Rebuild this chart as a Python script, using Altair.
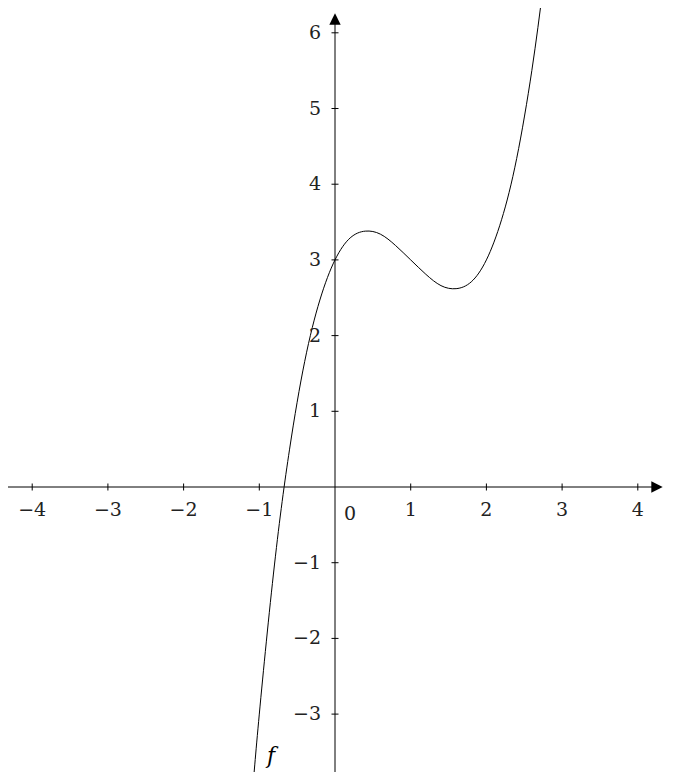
import altair as alt
import pandas as pd

# curve points
curve_x = [-1.1, -1.0, -0.8, -0.6, -0.4, -0.2, 0.0, 0.2, 0.4, 0.6, 0.8, 1.0,
           1.2, 1.4, 1.6, 1.8, 2.0, 2.2, 2.4, 2.6, 2.75]
curve_y = [-4.16, -3.0, -1.03, 0.50, 1.66, 2.47, 3.0, 3.29, 3.38, 3.34, 3.19, 3.0,
           2.81, 2.66, 2.62, 2.71, 3.0, 3.53, 4.34, 5.50, 6.61]

x_ticks = [-4, -3, -2, -1, 1, 2, 3, 4]
x_tick_labels = ["−4", "−3", "−2", "−1", "1", "2", "3", "4"]
y_ticks = [-3, -2, -1, 1, 2, 3, 4, 5, 6]
y_tick_labels = ["−3", "−2", "−1", "1", "2", "3", "4", "5", "6"]

W, H = 655, 764
UNIT = 75.7
OX, OY = 327, 479
x_dom = [-OX / UNIT, (W - OX) / UNIT]
y_dom = [-(H - OY) / UNIT, OY / UNIT]

FONT = "DejaVu Serif"
FS = 19

xs = alt.Scale(domain=x_dom, nice=False, zero=False)
ys = alt.Scale(domain=y_dom, nice=False, zero=False)

def X(f):
    return alt.X(f, type="quantitative", scale=xs, axis=None)

def Y(f):
    return alt.Y(f, type="quantitative", scale=ys, axis=None)

curve_df = pd.DataFrame({"x": curve_x, "y": curve_y})
curve = alt.Chart(curve_df).mark_line(
    color="black", strokeWidth=1, interpolate="natural", clip=True
).encode(x=X("x"), y=Y("y"), order="x:Q")

x_arrow_x = (W - 6 - OX) / UNIT
y_arrow_y = (OY - 11) / UNIT

axes_df = pd.DataFrame({
    "x": [x_dom[0], 0.0],
    "x2": [x_arrow_x, 0.0],
    "y": [0.0, y_dom[0]],
    "y2": [0.0, y_arrow_y],
})
axes = alt.Chart(axes_df).mark_rule(color="black", strokeWidth=1).encode(
    x=X("x"), x2="x2", y=Y("y"), y2="y2"
)

arrow_r = alt.Chart(pd.DataFrame({"x": [x_arrow_x], "y": [0.0]})).mark_point(
    shape="M-1,-1L1,0L-1,1Z", filled=True, color="black", opacity=1, size=130
).encode(x=X("x"), y=Y("y"))
arrow_u = alt.Chart(pd.DataFrame({"x": [0.0], "y": [y_arrow_y]})).mark_point(
    shape="M-1,1L0,-1L1,1Z", filled=True, color="black", opacity=1, size=130
).encode(x=X("x"), y=Y("y"))

xt_df = pd.DataFrame({"x": x_ticks, "y": [0.0] * len(x_ticks), "t": x_tick_labels})
yt_df = pd.DataFrame({"x": [0.0] * len(y_ticks), "y": y_ticks, "t": y_tick_labels})

xticks = alt.Chart(xt_df).mark_tick(
    orient="vertical", size=7, thickness=1, color="black", opacity=1
).encode(x=X("x"), y=Y("y"))
yticks = alt.Chart(yt_df).mark_tick(
    orient="horizontal", size=7, thickness=1, color="black", opacity=1
).encode(x=X("x"), y=Y("y"))

xlabels = alt.Chart(xt_df).mark_text(
    font=FONT, fontSize=FS, color="#222", align="center", baseline="middle", dy=23
).encode(x=X("x"), y=Y("y"), text="t:N")
ylabels = alt.Chart(yt_df).mark_text(
    font=FONT, fontSize=FS, color="#222", align="right", baseline="middle", dx=-14
).encode(x=X("x"), y=Y("y"), text="t:N")

zero = alt.Chart(pd.DataFrame({"x": [0.0], "y": [0.0], "t": ["0"]})).mark_text(
    font=FONT, fontSize=FS, color="#222", align="center", baseline="middle", dx=15, dy=27
).encode(x=X("x"), y=Y("y"), text="t:N")

flabel = alt.Chart(pd.DataFrame({"x": [-0.845], "y": [-3.56], "t": ["f"]})).mark_text(
    font=FONT, fontSize=22, fontStyle="italic", color="black", align="center", baseline="middle"
).encode(x=X("x"), y=Y("y"), text="t:N")

chart = alt.layer(
    axes, curve, xticks, yticks, xlabels, ylabels, zero, flabel, arrow_r, arrow_u
).properties(
    width=W, height=H, padding=0, autosize=alt.AutoSizeParams(type="none"),
    background="white"
).configure_view(strokeWidth=0)

chart.save("out.html", embed_options={"renderer": "svg", "actions": False})
